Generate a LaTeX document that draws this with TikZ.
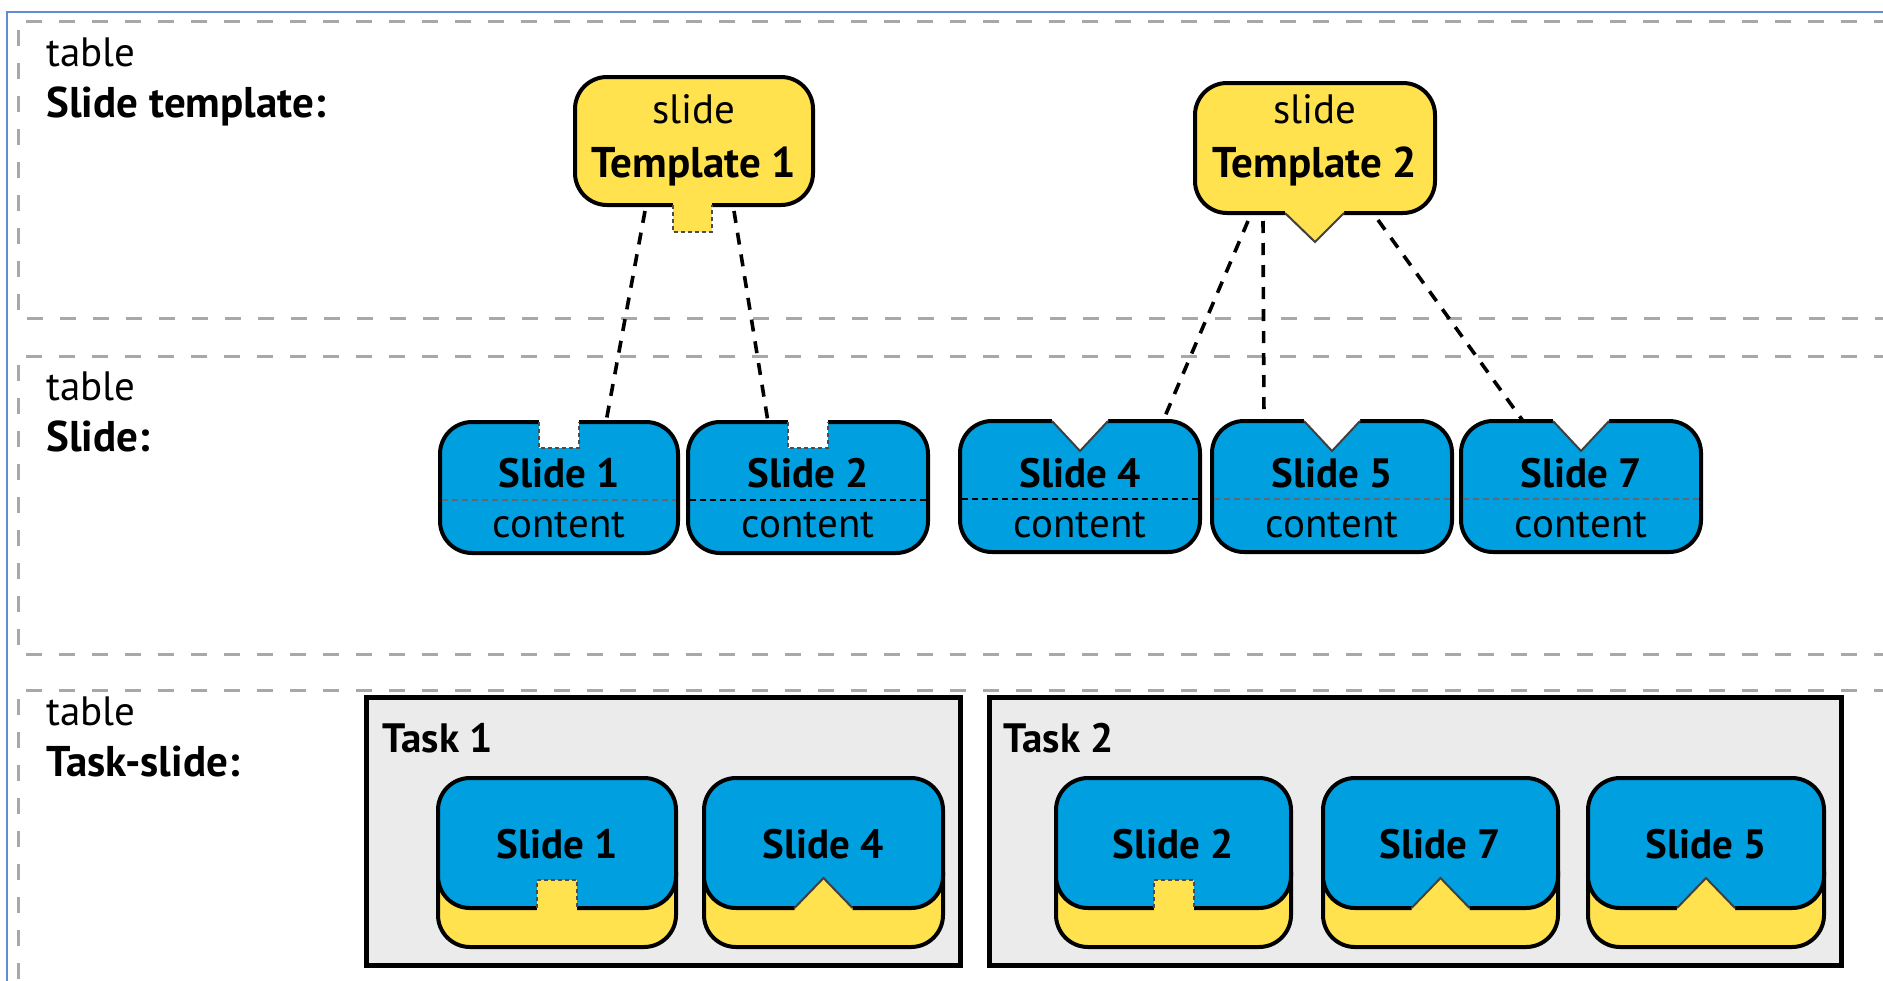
\documentclass[tikz,border=0pt]{standalone}
\usepackage{fontspec}
\setmainfont{PT Sans}
\definecolor{slideblue}{RGB}{0,160,224}
\definecolor{tplyellow}{RGB}{255,226,77}
\definecolor{bandgray}{RGB}{168,168,168}
\definecolor{taskgray}{RGB}{235,235,235}
\definecolor{frameblue}{RGB}{95,140,215}
\definecolor{divgray}{RGB}{95,105,115}
\tikzset{
  x=0.5pt, y=-0.5pt,
  band/.style={draw=bandgray, line width=1.5pt, dash pattern=on 8pt off 8.5pt},
  card/.style={line width=2pt, rounded corners=16pt, draw=black},
  bluecard/.style={card, fill=slideblue},
  yellowcard/.style={card, fill=tplyellow},
  taskbox/.style={draw=black, fill=taskgray, line width=2.5pt},
  tabedge/.style={draw=black!70, line width=1pt, dash pattern=on 2pt off 1.5pt},
  vedge/.style={draw=black!75, line width=1pt},
  link/.style={draw=black, line width=1.8pt, dash pattern=on 6pt off 5pt},
  divider/.style={line width=0.9pt, dash pattern=on 3pt off 2pt},
  txt/.style={inner sep=0pt, font=\fontsize{20.5}{24}\selectfont},
  lbl/.style={txt, anchor=base west},
  ctr/.style={txt, anchor=base},
  strong/.style={font=\fontsize{20.5}{24}\selectfont\bfseries},
  heading/.style={font=\fontsize{21.5}{25}\selectfont\bfseries}
}
% slide card with a square notch on top
\newcommand\slideSq[4]{%
  \pgfmathsetmacro\cx{(#2+#3)/2}
  \draw[bluecard] (#2,422) rectangle (#3,553);
  \fill[white] (\cx-20,416) rectangle (\cx+20,448);
  \draw[tabedge] (\cx-20,422) -- (\cx-20,448) -- (\cx+20,448) -- (\cx+20,422);
  \draw[divider,#4] (#2+2,500) -- (#3-2,500);
  \node[ctr,strong] (#1) at (\cx,487) {Slide #1};
  \node[ctr] (#1-content) at (\cx,537) {content};
}
% slide card with a V notch on top
\newcommand\slideV[4]{%
  \pgfmathsetmacro\cx{(#2+#3)/2}
  \draw[bluecard] (#2,421) rectangle (#3,552);
  \fill[white] (\cx-28,415) -- (\cx-28,421) -- (\cx,451) -- (\cx+28,421) -- (\cx+28,415) -- cycle;
  \draw[vedge] (\cx-28,421) -- (\cx,451) -- (\cx+28,421);
  \draw[divider,#4] (#2+2,499) -- (#3-2,499);
  \node[ctr,strong] (#1) at (\cx,487) {Slide #1};
  \node[ctr] (#1-content) at (\cx,537) {content};
}
% slide stacked on a template with a square tab
\newcommand\taskSq[3]{%
  \pgfmathsetmacro\cx{(#2+#3)/2}
  \draw[yellowcard] (#2,840) rectangle (#3,947);
  \draw[bluecard] (#2,778) rectangle (#3,908);
  \fill[tplyellow] (\cx-20,913) rectangle (\cx+20,880);
  \draw[tabedge] (\cx-20,908) -- (\cx-20,880) -- (\cx+20,880) -- (\cx+20,908);
  \node[ctr,strong] (#1) at (\cx,858) {Slide #1};
}
% slide stacked on a template with a V tab
\newcommand\taskV[3]{%
  \pgfmathsetmacro\cx{(#2+#3)/2}
  \draw[yellowcard] (#2,840) rectangle (#3,947);
  \draw[bluecard] (#2,778) rectangle (#3,908);
  \fill[tplyellow] (\cx-29,913) -- (\cx-29,908) -- (\cx,878) -- (\cx+29,908) -- (\cx+29,913) -- cycle;
  \draw[vedge] (\cx-29,908) -- (\cx,878) -- (\cx+29,908);
  \node[ctr,strong] (#1) at (\cx,858) {Slide #1};
}
\begin{document}
\begin{tikzpicture}
\useasboundingbox (0,0) rectangle (1883,980);
\clip (0,0) rectangle (1883,980);
\fill[white] (0,0) rectangle (1883,980);

% page frame
\draw[frameblue, line width=0.8pt] (7,990) -- (7,12) -- (1890,12);

% table bands
\draw[band] (1890,21) -- (18,21) -- (18,318) -- (1890,318);
\draw[band] (1890,356) -- (18,356) -- (18,654) -- (1890,654);
\draw[band] (1890,690) -- (18,690) -- (18,990);

% band labels
\node[lbl] (lt1) at (46,66) {table};
\node[lbl,heading] (lh1) at (46,117) {Slide template:};
\node[lbl] (lt2) at (46,400) {table};
\node[lbl,heading] (lh2) at (46,451) {Slide:};
\node[lbl] (lt3) at (46,725) {table};
\node[lbl,heading] (lh3) at (46,776) {Task-slide:};

% slide templates
\draw[yellowcard] (575,77) rectangle (813,205);
\fill[tplyellow] (673,199) rectangle (712,232);
\draw[tabedge] (673,205) -- (673,232) -- (712,232) -- (712,205);
\node[ctr] (tpl1-kind) at (694,123) {slide};
\node[ctr,heading] (tpl1) at (694,177) {Template 1};

\draw[yellowcard] (1195,83) rectangle (1435,213);
\fill[tplyellow] (1285,207) -- (1285,213) -- (1315,242) -- (1344,213) -- (1344,207) -- cycle;
\draw[vedge] (1285,213) -- (1315,242) -- (1344,213);
\node[ctr] (tpl2-kind) at (1315,123) {slide};
\node[ctr,heading] (tpl2) at (1315,177) {Template 2};

% slides
\slideSq{1}{440}{678}{divgray}
\slideSq{2}{688}{928}{black}
\slideV{4}{960}{1200}{black}
\slideV{5}{1212}{1452}{divgray}
\slideV{7}{1461}{1701}{divgray}

% template links
\coordinate (tpl1-a) at (645,211);
\coordinate (tpl1-b) at (734,211);
\coordinate (tpl2-a) at (1248,221);
\coordinate (tpl2-b) at (1263,221);
\coordinate (tpl2-c) at (1378,220);
\coordinate (s1-in) at (606,422);
\coordinate (s2-in) at (768,422);
\coordinate (s4-in) at (1163,421);
\coordinate (s5-in) at (1264,421);
\coordinate (s7-in) at (1523,421);
\draw[link] (tpl1-a) -- (s1-in);
\draw[link] (tpl1-b) -- (s2-in);
\draw[link] (tpl2-a) -- (s4-in);
\draw[link] (tpl2-b) -- (s5-in);
\draw[link] (tpl2-c) -- (s7-in);

% tasks
\draw[taskbox] (366,697) rectangle (960,965);
\node[lbl,strong] (task1) at (382,752) {Task 1};
\draw[taskbox] (989,697) rectangle (1841,965);
\node[lbl,strong] (task2) at (1003,752) {Task 2};

\begin{scope}[every node/.append style={name prefix=t-}]
\taskSq{1}{438}{676}
\taskV{4}{704}{943}
\taskSq{2}{1056}{1291}
\taskV{7}{1323}{1558}
\taskV{5}{1588}{1824}
\end{scope}
\end{tikzpicture}
\end{document}
